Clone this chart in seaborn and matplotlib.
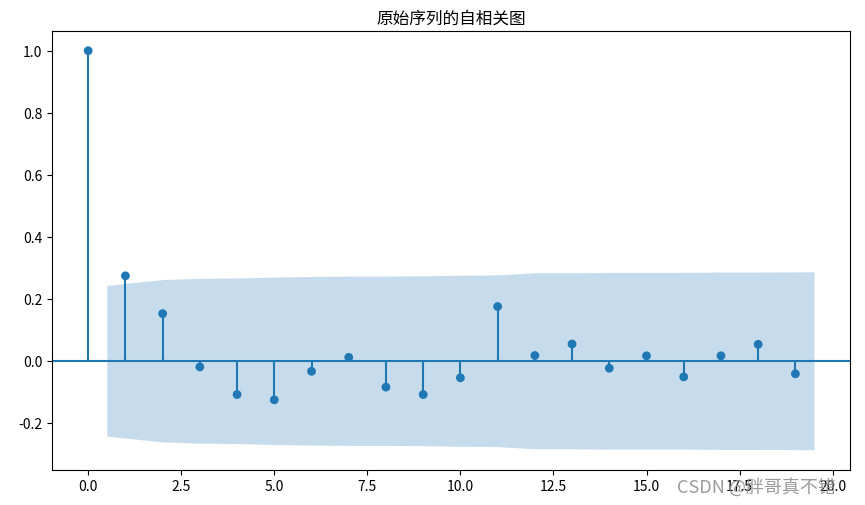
import numpy as np
import pandas as pd
import matplotlib
matplotlib.use("Agg")
import matplotlib.pyplot as plt
import seaborn as sns

# autocorrelation values
LAGS = list(range(20))
ACF = [1.0, 0.274, 0.152, -0.020, -0.109, -0.126, -0.034, 0.011, -0.085, -0.109,
       -0.055, 0.175, 0.017, 0.054, -0.024, 0.016, -0.052, 0.016, 0.053, -0.042]

# confidence band (upper edge, symmetric around 0)
BAND_X = [0.5, 2, 3, 4, 5, 6, 7, 8, 9, 10, 11, 12, 13, 14, 15, 16, 17, 18, 19.5]
BAND_UP = [0.243, 0.262, 0.266, 0.267, 0.270, 0.272, 0.273, 0.273, 0.274, 0.276,
           0.277, 0.284, 0.284, 0.285, 0.285, 0.285, 0.286, 0.286, 0.287]

TITLE = "原始序列的自相关图"
WATERMARK = "CSDN @胖哥真不错"
BLUE = "#1f77b4"

plt.rcParams["font.family"] = ["Noto Sans CJK SC", "DejaVu Sans"]
plt.rcParams["axes.unicode_minus"] = False

df = pd.DataFrame({"lag": LAGS, "acf": ACF})
band = pd.DataFrame({"x": BAND_X, "up": BAND_UP})

fig, ax = plt.subplots(figsize=(8.65, 5.06), dpi=100)
fig.subplots_adjust(left=0.06, right=0.983, top=0.937, bottom=0.07)

ax.fill_between(band["x"], -band["up"], band["up"], color=BLUE, alpha=0.25, linewidth=0)
ax.vlines(df["lag"], 0, df["acf"], color=BLUE, linewidth=1.5)
ax.axhline(0, color=BLUE, linewidth=1.5)
sns.scatterplot(data=df, x="lag", y="acf", color=BLUE, s=40, edgecolor="none", ax=ax, zorder=3)

ax.set_title(TITLE, fontsize=12)
ax.set_xlabel("")
ax.set_ylabel("")
ax.set_xticks(np.arange(0, 20.1, 2.5))
ax.set_yticks(np.arange(-0.2, 1.01, 0.2))
ax.set_xlim(-0.975, 20.475)
ax.set_ylim(-0.351, 1.064)

fig.text(0.783, 0.037, WATERMARK, fontsize=13, color="#909090", alpha=0.9, va="center")

plt.savefig("out.png")
plt.close()
